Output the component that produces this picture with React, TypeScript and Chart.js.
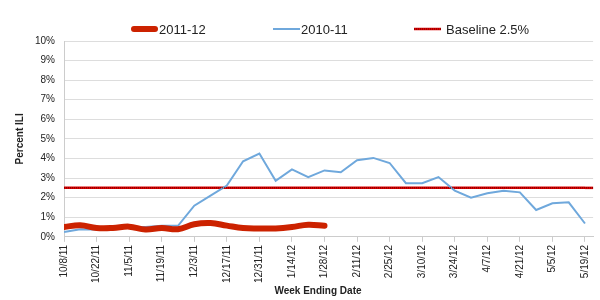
import React, { useEffect, useRef } from "react";
import { Chart, registerables } from "chart.js";

Chart.register(...registerables);

const weeks = [
  "10/8/11", "10/15/11", "10/22/11", "10/29/11", "11/5/11", "11/12/11", "11/19/11", "11/26/11",
  "12/3/11", "12/10/11", "12/17/11", "12/24/11", "12/31/11", "1/7/12", "1/14/12", "1/21/12",
  "1/28/12", "2/4/12", "2/11/12", "2/18/12", "2/25/12", "3/3/12", "3/10/12", "3/17/12",
  "3/24/12", "3/31/12", "4/7/12", "4/14/12", "4/21/12", "4/28/12", "5/5/12", "5/12/12", "5/19/12",
];

const season2011_12 = [
  0.5, 0.59, 0.45, 0.45, 0.52, 0.37, 0.45, 0.39, 0.64, 0.7, 0.57, 0.45, 0.43, 0.43, 0.5, 0.62, 0.56,
];

const season2010_11 = [
  0.25, 0.39, 0.38, 0.39, 0.5, 0.5, 0.56, 0.56, 1.59, 2.1, 2.62, 3.86, 4.25, 2.86, 3.44, 3.05, 3.39,
  3.3, 3.91, 4.03, 3.77, 2.74, 2.74, 3.05, 2.36, 2.0, 2.22, 2.35, 2.27, 1.37, 1.71, 1.76, 0.68,
];

const baselineValue = 2.5;
const baseline = weeks.map(() => baselineValue);

const yTicks = [0, 1, 2, 3, 4, 5, 6, 7, 8, 9, 10];
const xTickIdx = weeks.map((_, i) => i).filter((i) => i % 2 === 0);

const xTitle = "Week Ending Date";
const FONT = "'Liberation Sans', Arial, sans-serif";

const toXY = (arr: number[]) => arr.map((v, i) => ({ x: i, y: v }));

const customPlugin = {
  id: "customLegendAndTitle",
  afterDatasetsDraw(chart: any) {
    const meta = chart.getDatasetMeta(2);
    const pts = meta.data;
    if (pts && pts.length) {
      const c = chart.ctx;
      const last = pts[pts.length - 1];
      c.save();
      c.strokeStyle = "#dd0000";
      c.lineWidth = 2.5;
      c.beginPath();
      c.moveTo(last.x, last.y);
      c.lineTo(chart.chartArea.right, last.y);
      c.stroke();
      c.strokeStyle = "#5a0000";
      c.lineWidth = 1;
      c.setLineDash([1, 1]);
      c.beginPath();
      c.moveTo(pts[0].x, pts[0].y);
      c.lineTo(chart.chartArea.right, pts[0].y);
      c.stroke();
      c.restore();
    }
  },
  afterDraw(chart: any) {
    const c = chart.ctx;
    const ds = chart.data.datasets;
    const items = [
      { x: 131, tx: 159, w: 6, color: "#cc2200", cap: "round", dotted: false },
      { x: 273, tx: 301, w: 2, color: "#6fa8dc", cap: "butt", dotted: false },
      { x: 414, tx: 446, w: 2.5, color: "#dd0000", cap: "butt", dotted: true },
    ];
    const ly = 29;
    c.save();
    items.forEach((it, i) => {
      c.beginPath();
      c.strokeStyle = it.color;
      c.lineWidth = it.w;
      c.lineCap = it.cap;
      const x0 = it.cap === "round" ? it.x + 3 : it.x;
      const x1 = it.cap === "round" ? it.x + 24 : it.x + 27;
      c.moveTo(x0, ly);
      c.lineTo(x1, ly);
      c.stroke();
      if (it.dotted) {
        c.beginPath();
        c.strokeStyle = "#5a0000";
        c.lineWidth = 1;
        c.setLineDash([1, 1]);
        c.moveTo(it.x, ly);
        c.lineTo(it.x + 27, ly);
        c.stroke();
        c.setLineDash([]);
      }
      c.fillStyle = "#222";
      c.font = "13px " + FONT;
      c.textBaseline = "middle";
      c.textAlign = "left";
      c.fillText(ds[i].label, it.tx, ly + 1);
    });
    c.font = "bold 10px " + FONT;
    c.fillStyle = "#222";
    c.textAlign = "center";
    c.textBaseline = "middle";
    c.fillText(xTitle, 318, 291);
    c.restore();
  },
};

export default function App() {
  const ref = useRef<HTMLCanvasElement | null>(null);

  useEffect(() => {
    document.body.style.margin = "0";
    const ctx = ref.current;
    if (!ctx) return;
    const chart = new Chart(ctx, {
      type: "line",
      data: {
        datasets: [
          {
            label: "2011-12",
            data: toXY(season2011_12),
            borderColor: "#cc2200",
            backgroundColor: "#cc2200",
            borderWidth: 6,
            borderCapStyle: "round",
            borderJoinStyle: "round",
            tension: 0.4,
            pointRadius: 0,
            fill: false,
          },
          {
            label: "2010-11",
            data: toXY(season2010_11),
            borderColor: "#6fa8dc",
            backgroundColor: "#6fa8dc",
            borderWidth: 2,
            tension: 0,
            pointRadius: 0,
            fill: false,
          },
          {
            label: "Baseline 2.5%",
            data: toXY(baseline),
            borderColor: "#dd0000",
            backgroundColor: "#dd0000",
            borderWidth: 2.5,
            pointRadius: 0,
            fill: false,
          },
        ],
      },
      options: {
        animation: false,
        responsive: true,
        maintainAspectRatio: false,
        layout: { padding: { left: 14, right: 1, top: 41, bottom: 14 } },
        plugins: {
          legend: { display: false },
          tooltip: { enabled: false },
        },
        scales: {
          x: {
            type: "linear",
            min: 0,
            max: 32.5,
            afterBuildTicks: (axis: any) => {
              axis.ticks = xTickIdx.map((v) => ({ value: v }));
            },
            grid: {
              drawOnChartArea: false,
              tickLength: 5,
              tickColor: "#cccccc",
              color: "#cccccc",
            },
            border: { color: "#cccccc" },
            ticks: {
              autoSkip: false,
              maxRotation: 90,
              minRotation: 90,
              color: "#222",
              font: { family: FONT, size: 10 },
              padding: 3,
              callback: (v: any) => weeks[v] ?? "",
            },
          },
          y: {
            min: 0,
            max: 10,
            afterBuildTicks: (axis: any) => {
              axis.ticks = yTicks.map((v) => ({ value: v }));
            },
            grid: { color: "#dddddd", drawTicks: false },
            border: { color: "#cccccc" },
            ticks: {
              autoSkip: false,
              color: "#222",
              padding: 9,
              font: { family: FONT, size: 10 },
              callback: (v: any) => v + "%",
            },
            title: {
              display: true,
              text: "Percent ILI",
              color: "#222",
              font: { family: FONT, size: 10, weight: "bold" },
              padding: { top: 0, bottom: 0 },
            },
          },
        },
      },
      plugins: [customPlugin],
    } as any);
    return () => chart.destroy();
  }, []);

  return (
    <div style={{ position: "absolute", left: 0, top: 0, width: 600, height: 300 }}>
      <canvas ref={ref} />
    </div>
  );
}
